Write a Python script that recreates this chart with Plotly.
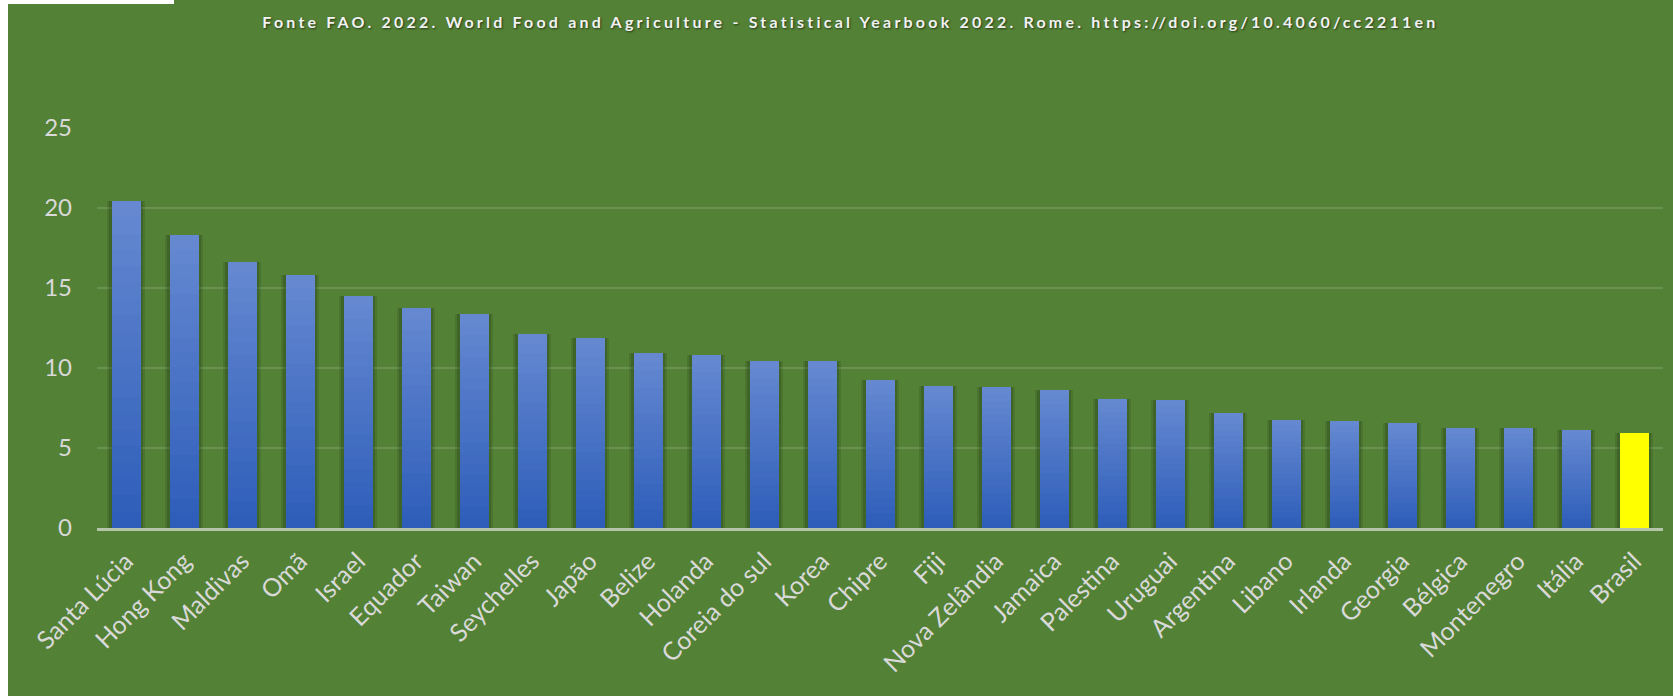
import plotly.graph_objects as go

# ---- data ----
countries = ["Santa Lúcia", "Hong Kong", "Maldivas", "Omã", "Israel", "Equador", "Taiwan",
             "Seychelles", "Japão", "Belize", "Holanda", "Coreia do sul", "Korea", "Chipre",
             "Fiji", "Nova Zelândia", "Jamaica", "Palestina", "Uruguai", "Argentina", "Libano",
             "Irlanda", "Georgia", "Bélgica", "Montenegro", "Itália", "Brasil"]
values = [20.45, 18.3, 16.65, 15.8, 14.5, 13.75, 13.38,
          12.12, 11.88, 10.95, 10.82, 10.45, 10.45, 9.25,
          8.88, 8.8, 8.63, 8.06, 8.0, 7.19, 6.75,
          6.69, 6.56, 6.25, 6.25, 6.12, 5.94]
highlight = "Brasil"
y_ticks = [0, 5, 10, 15, 20, 25]
title_text = ("Fonte FAO. 2022. World Food and Agriculture - Statistical Yearbook 2022. "
              "Rome. https://doi.org/10.4060/cc2211en")

# ---- styling ----
BG = "#538135"
BOTTOM = (45, 93, 185)
TOP = (102, 137, 209)
YELLOW = "#ffff00"
LABEL = "#d9d9d9"
N_SEG = 20

W, H = 1673, 696
ML, MR, MT, MB = 97, 10, 128, 168
PW = W - ML - MR
PH = H - MT - MB

fig = go.Figure()

# soft shadow behind the bars (two layers on two overlaid axes)
fig.add_trace(go.Bar(
    x=countries, y=values, width=0.66, xaxis="x", yaxis="y",
    marker=dict(color="rgba(25,45,15,0.14)", line=dict(width=0)),
    hoverinfo="skip", showlegend=False,
))
fig.add_trace(go.Bar(
    x=countries, y=values, width=0.58, xaxis="x2", yaxis="y",
    marker=dict(color="rgba(25,45,15,0.22)", line=dict(width=0)),
    hoverinfo="skip", showlegend=False,
))

# gradient bars: each bar split into stacked segments, dark at bottom -> light at top
for i in range(N_SEG):
    t = (i + 0.5) / N_SEG
    c = tuple(round(BOTTOM[k] + (TOP[k] - BOTTOM[k]) * t) for k in range(3))
    seg_color = "rgb(%d,%d,%d)" % c
    colors = [YELLOW if n == highlight else seg_color for n in countries]
    fig.add_trace(go.Bar(
        x=countries, y=[v / N_SEG for v in values], width=0.5,
        xaxis="x3", yaxis="y",
        marker=dict(color=colors, line=dict(width=0)),
        hoverinfo="skip", showlegend=False,
    ))

hidden_x = dict(type="category", categoryorder="array", categoryarray=countries,
                overlaying="x", matches="x", visible=False)

fig.update_layout(
    width=W, height=H,
    margin=dict(l=ML, r=MR, t=MT, b=MB, pad=0),
    paper_bgcolor=BG, plot_bgcolor=BG,
    barmode="stack", bargap=0.5,
    font=dict(family="Lato, 'Open Sans', sans-serif", color=LABEL),
    xaxis=dict(
        type="category", categoryorder="array", categoryarray=countries,
        tickangle=-45, tickfont=dict(size=25, color=LABEL, family="Lato"),
        showgrid=False, zeroline=False,
        showline=True, linecolor="rgba(205,214,200,0.8)", linewidth=2.5,
        ticks="", ticklabelstandoff=6,
    ),
    xaxis2=hidden_x,
    xaxis3=hidden_x,
    yaxis=dict(
        range=[0, 25], tickvals=y_ticks, ticktext=[str(v) for v in y_ticks],
        tickfont=dict(size=24, color=LABEL, family="Lato"),
        showgrid=True, gridcolor="rgba(255,255,255,0.14)", gridwidth=1.5,
        zeroline=False, showline=False, ticks="", ticklabelstandoff=24,
    ),
    annotations=[dict(
        text="<b>" + title_text + "</b>",
        xref="paper", yref="paper",
        x=(850 - ML) / PW, y=1 + (MT - 22) / PH,
        xanchor="center", yanchor="middle", showarrow=False,
        font=dict(family="Lato", size=16, color="#f2f2f2",
                  shadow="1px 1px 2px rgba(0,0,0,0.55)"),
    )],
    shapes=[
        # white strip on the left edge of the picture
        dict(type="rect", xref="paper", yref="paper",
             x0=-ML / PW, x1=(8 - ML) / PW, y0=-MB / PH, y1=1 + MT / PH,
             fillcolor="white", line=dict(width=0), layer="above"),
        # small white box at the top-left corner
        dict(type="rect", xref="paper", yref="paper",
             x0=-ML / PW, x1=(174 - ML) / PW, y0=1 + (MT - 4) / PH, y1=1 + MT / PH,
             fillcolor="white", line=dict(width=0), layer="above"),
    ],
)

post = """
document.body.style.margin='0';
document.body.style.padding='0';
document.body.style.overflow='hidden';
var gd = document.getElementById('{plot_id}');
function spaceTitle() {
  if (!gd) { return; }
  gd.querySelectorAll('.annotation-text').forEach(function (e) {
    e.style.letterSpacing = '3.2px';
  });
}
spaceTitle();
setTimeout(spaceTitle, 0);
if (gd && gd.on) { gd.on('plotly_afterplot', spaceTitle); }
"""

fig.write_html("out.html", config={"displayModeBar": False}, post_script=post)
